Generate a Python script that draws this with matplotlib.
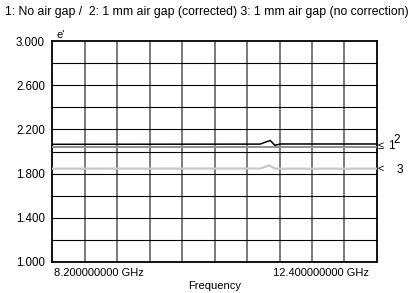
import matplotlib
matplotlib.use("Agg")
import matplotlib.pyplot as plt
from matplotlib import font_manager

fams = [f.name for f in font_manager.fontManager.ttflist]
FONT = "Liberation Sans Narrow" if "Liberation Sans Narrow" in fams else "Liberation Sans"
plt.rcParams['font.family'] = [FONT, 'DejaVu Sans']

title = "1: No air gap /  2: 1 mm air gap (corrected) 3: 1 mm air gap (no correction)"
y_ticks = [1.0, 1.4, 1.8, 2.2, 2.6, 3.0]
y_tick_labels = ["1.000", "1.400", "1.800", "2.200", "2.600", "3.000"]
x_start_label = "8.200000000 GHz"
x_stop_label = "12.400000000 GHz"

freq1 = [8.2, 10.89, 11.02, 11.08, 11.15, 12.4]
eps1 = [2.065, 2.067, 2.100, 2.056, 2.068, 2.068]
freq2 = [8.2, 12.4]
eps2 = [2.042, 2.042]
freq3 = [8.2, 10.89, 11.01, 11.08, 12.4]
eps3 = [1.845, 1.846, 1.875, 1.845, 1.845]

fig = plt.figure(figsize=(4.13, 2.93), dpi=100)
ax = fig.add_axes([52/413, 1-262/293, 325/413, 221/293])
ax.set_xlim(8.2, 12.4)
ax.set_ylim(1.0, 3.0)

for i in range(1, 10):
    x = 8.2 + i * 0.42
    ax.axvline(x, color="#707070", lw=1.3, zorder=1)
for i in range(1, 10):
    y = 1.0 + i * 0.2
    ax.axhline(y, color="#000000", lw=0.8, zorder=1)

ax.plot(freq3, eps3, color="#c8c8c8", lw=1.6, zorder=3)
ax.plot(freq2, eps2, color="#909090", lw=1.4, zorder=3)
ax.plot(freq1, eps1, color="#000000", lw=1.1, zorder=4)

for s in ax.spines.values():
    s.set_linewidth(1.3)
    s.set_color("black")

ax.set_yticks(y_ticks)
ax.set_yticklabels(y_tick_labels, fontsize=8.3)
ax.tick_params(axis='y', length=0, pad=5)
ax.set_xticks([])

ax.text(0.005, -0.025, x_start_label, transform=ax.transAxes, ha="left", va="top", fontsize=8)
ax.text(0.975, -0.025, x_stop_label, transform=ax.transAxes, ha="right", va="top", fontsize=8)
ax.text(0.5, -0.085, "Frequency", transform=ax.transAxes, ha="center", va="top", fontsize=8)
ax.text(0.015, 1.005, "e'", transform=ax.transAxes, ha="left", va="bottom", fontsize=8)

fig.text(5/413, 1-12/293, title, ha="left", va="center", fontsize=8.85)

# right-side trace markers
yt = ax.get_yaxis_transform()
ax.text(1.003, (eps1[0] + eps2[0]) / 2, "\u2264", transform=yt, ha="left", va="center", fontsize=8, clip_on=False)
ax.text(1.034, eps2[0] + 0.005, "1", transform=yt, ha="left", va="center", fontsize=8.5, clip_on=False)
ax.text(1.052, eps1[0] + 0.04, "2", transform=yt, ha="left", va="center", fontsize=8.5, clip_on=False)
ax.text(1.003, eps3[0], "<", transform=yt, ha="left", va="center", fontsize=8, clip_on=False)
ax.text(1.060, eps3[0] - 0.01, "3", transform=yt, ha="left", va="center", fontsize=8.5, clip_on=False)

fig.savefig("out.png", dpi=100)
